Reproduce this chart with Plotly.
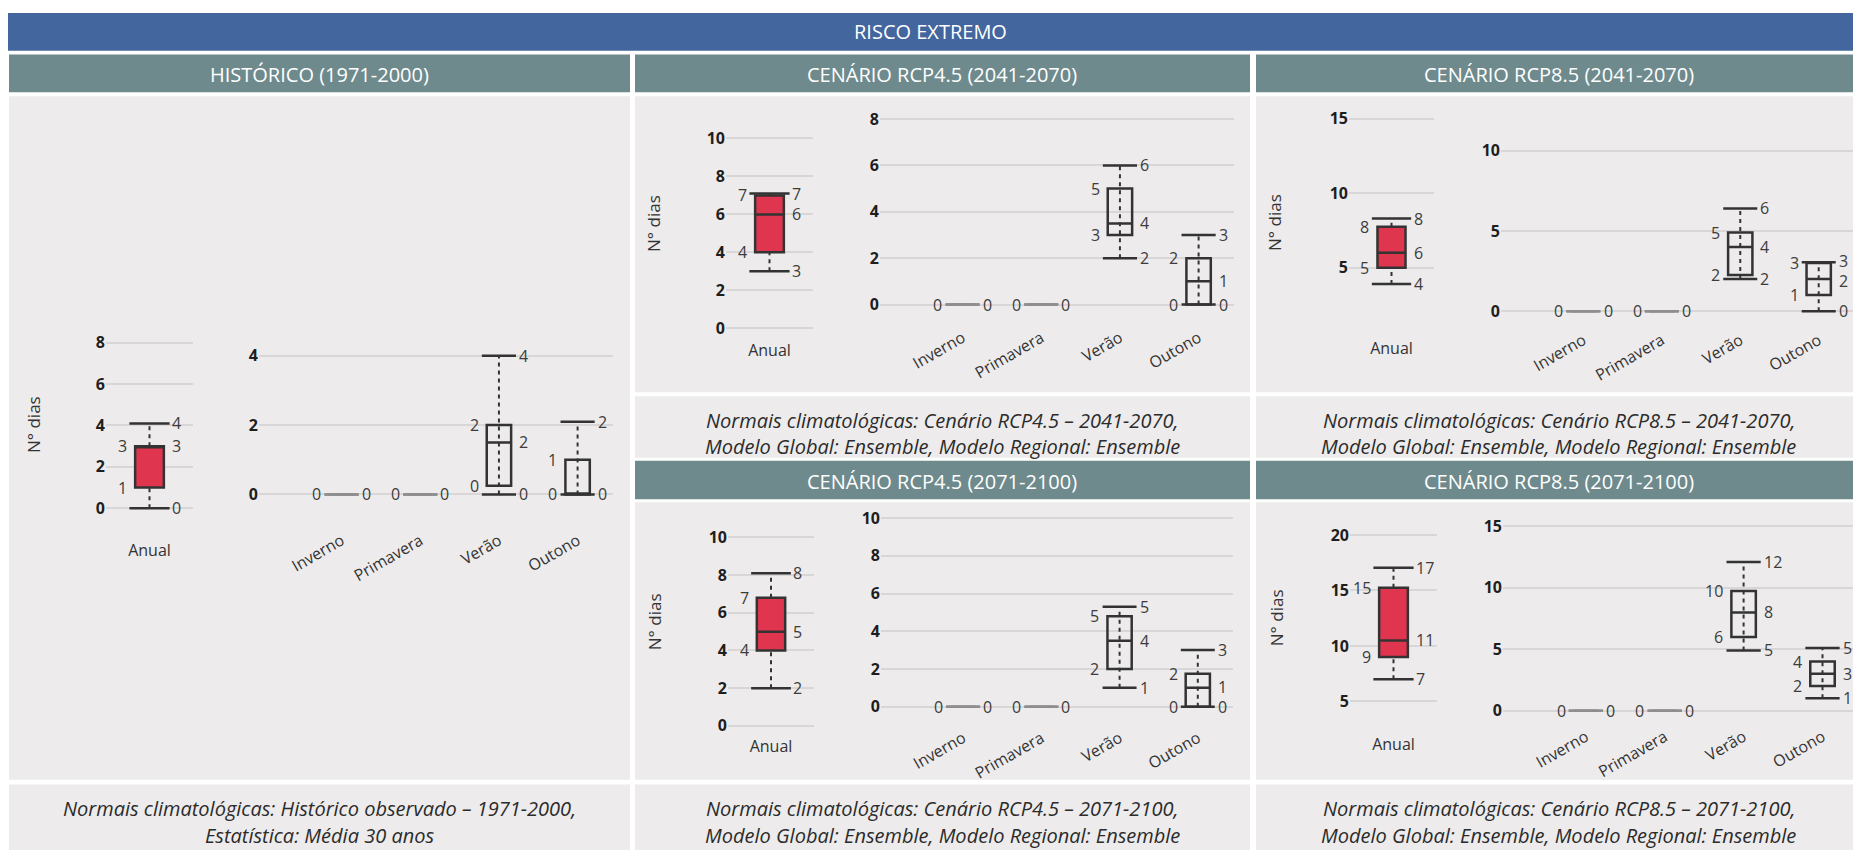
import plotly.graph_objects as go

W, H = 1861, 854
OFF = 8  # the page body margin shifts the figure by this much
FW, FH = W - OFF, H - OFF

SEASONS = ["Inverno", "Primavera", "Verão", "Outono"]
ANUAL = ["Anual"]
ZERO = (0, 0, 0, 0, 0)

# box statistics: (min, q1, median, q3, max)
HIST_ANUAL = (0, 1, 3, 3, 4.1)
HIST_SEASONS = [ZERO, ZERO, (0, 0.25, 1.5, 2, 4), (0, 0, 0, 1, 2.1)]
R45A_ANUAL = (3, 4, 6, 7, 7.1)
R45A_SEASONS = [ZERO, ZERO, (2, 3, 3.5, 5, 6), (0, 0, 1, 2, 3)]
R85A_ANUAL = (3.9, 5, 6, 7.75, 8.3)
R85A_SEASONS = [ZERO, ZERO, (2, 2.25, 4, 4.9, 6.4), (0, 1, 2, 3, 3.05)]
R45B_ANUAL = (2, 4, 5, 6.8, 8.1)
R45B_SEASONS = [ZERO, ZERO, (1, 2, 3.5, 4.8, 5.3), (0, 0, 1, 1.75, 3)]
R85B_ANUAL = (7, 9, 10.5, 15.25, 17.05)
R85B_SEASONS = [ZERO, ZERO, (4.9, 6, 8, 9.75, 12.1), (1, 2, 3, 4, 5.1)]

HIST_ANUAL_TICKS = [0, 2, 4, 6, 8]
HIST_SEASON_TICKS = [0, 2, 4]
R45A_ANUAL_TICKS = [0, 2, 4, 6, 8, 10]
R45A_SEASON_TICKS = [0, 2, 4, 6, 8]
R85A_ANUAL_TICKS = [5, 10, 15]
R85A_SEASON_TICKS = [0, 5, 10]
R45B_ANUAL_TICKS = [0, 2, 4, 6, 8, 10]
R45B_SEASON_TICKS = [0, 2, 4, 6, 8, 10]
R85B_ANUAL_TICKS = [5, 10, 15, 20]
R85B_SEASON_TICKS = [0, 5, 10, 15]

TITLE = "RISCO EXTREMO"
HEAD_HIST = "HISTÓRICO (1971-2000)"
HEAD_R45A = "CENÁRIO RCP4.5 (2041-2070)"
HEAD_R85A = "CENÁRIO RCP8.5 (2041-2070)"
HEAD_R45B = "CENÁRIO RCP4.5 (2071-2100)"
HEAD_R85B = "CENÁRIO RCP8.5 (2071-2100)"
CAP_HIST = ["Normais climatológicas: Histórico observado – 1971-2000,", "Estatística: Média 30 anos"]
CAP_R45A = ["Normais climatológicas: Cenário RCP4.5 – 2041-2070,", "Modelo Global: Ensemble, Modelo Regional: Ensemble"]
CAP_R85A = ["Normais climatológicas: Cenário RCP8.5 – 2041-2070,", "Modelo Global: Ensemble, Modelo Regional: Ensemble"]
CAP_R45B = ["Normais climatológicas: Cenário RCP4.5 – 2071-2100,", "Modelo Global: Ensemble, Modelo Regional: Ensemble"]
CAP_R85B = ["Normais climatológicas: Cenário RCP8.5 – 2071-2100,", "Modelo Global: Ensemble, Modelo Regional: Ensemble"]
Y_TITLE = "N° dias"

BLUE = "#42669d"
TEAL = "#6e8a8d"
PANEL = "#edebec"
RED = "#e0354f"
INK = "#333333"
FLAT = "#8e8e8e"
GRID = "#d8d6d7"
FONT = "Open Sans"

# subplot geometry in pixels: stats, categories, ticks, (left, right), (top, bottom), y range, label standoff
SUBPLOTS = [
    ([HIST_ANUAL], ANUAL, HIST_ANUAL_TICKS, (106, 193), (331.3, 519.5), (-0.5, 8.5), 20),
    (HIST_SEASONS, SEASONS, HIST_SEASON_TICKS, (259, 613), (342.8, 507.3), (-0.35, 4.35), 21),
    ([R45A_ANUAL], ANUAL, R45A_ANUAL_TICKS, (726, 813), (126.1, 336.9), (-0.5, 10.5), 1),
    (R45A_SEASONS, SEASONS, R45A_SEASON_TICKS, (880, 1234), (106.7, 312.7), (-0.4, 8.4), 11),
    ([R85A_ANUAL], ANUAL, R85A_ANUAL_TICKS, (1349, 1434), (105.3, 318.8), (1.5, 15.7), 17),
    (R85A_SEASONS, SEASONS, R85A_SEASON_TICKS, (1501, 1854), (138.3, 318.1), (-0.5, 10.6), 8),
    ([R45B_ANUAL], ANUAL, R45B_ANUAL_TICKS, (728, 814), (528.9, 738.2), (-0.5, 10.5), 0),
    (R45B_SEASONS, SEASONS, R45B_SEASON_TICKS, (881, 1233), (509.5, 718.8), (-0.5, 10.5), 9),
    ([R85B_ANUAL], ANUAL, R85B_ANUAL_TICKS, (1350, 1437), (524.8, 720.8), (3.5, 21), 15),
    (R85B_SEASONS, SEASONS, R85B_SEASON_TICKS, (1503, 1858), (519.9, 719.5), (-0.5, 15.6), 7),
]


def fx(px):
    return (px - OFF) / FW


def fy(py):
    return 1 - (py - OFF) / FH


def lbl(v):
    return str(int(v + 0.5))


fig = go.Figure()
shapes, annots = [], []


def rect(x0, y0, x1, y1, color):
    shapes.append(dict(type="rect", xref="paper", yref="paper", x0=fx(x0), x1=fx(x1),
                       y0=fy(y1), y1=fy(y0), fillcolor=color, line_width=0, layer="below"))


def text(x, y, s, size, color, **kw):
    annots.append(dict(xref="paper", yref="paper", x=fx(x), y=fy(y), text=s, showarrow=False,
                       font=dict(family=FONT, size=size, color=color),
                       xanchor="center", yanchor="middle", **kw))


# frame
rect(8, 9, 1861, 47, BLUE)
text(930, 28, TITLE, 20, "white")
for x0, x1, y0, y1, head in [(9, 630, 51, 89, HEAD_HIST), (635, 1250, 51, 89, HEAD_R45A),
                             (1256, 1861, 51, 89, HEAD_R85A), (635, 1250, 461, 500, HEAD_R45B),
                             (1256, 1861, 461, 500, HEAD_R85B)]:
    rect(x0, y0, x1, y1, TEAL)
    text((x0 + x1) / 2, (y0 + y1) / 2 + 1, head, 20, "white")
for x0, y0, x1, y1 in [(9, 93, 630, 783), (635, 93, 1250, 392), (1256, 93, 1861, 392),
                       (635, 503, 1250, 783), (1256, 503, 1861, 783)]:
    rect(x0, y0, x1, y1, PANEL)
for x0, x1, y0, y1, lines in [(635, 1250, 396, 458, CAP_R45A), (1256, 1861, 396, 458, CAP_R85A),
                              (9, 630, 788, 854, CAP_HIST), (635, 1250, 788, 854, CAP_R45B),
                              (1256, 1861, 788, 854, CAP_R85B)]:
    rect(x0, y0, x1, y1, PANEL)
    text((x0 + x1) / 2, y0 + 24, f"<i>{lines[0]}</i>", 20, "#2b2b2b")
    text((x0 + x1) / 2, y0 + 51, f"<i>{lines[1]}</i>", 20, "#2b2b2b")
for x, y in [(33, 425), (654, 222), (1275, 221), (654, 624), (1276, 620)]:
    text(x, y, Y_TITLE, 17, INK, textangle=-90)

layout_axes = {}
for i, (stats, cats, ticks, (left, right), (top, bottom), yr, standoff) in enumerate(SUBPLOTS, start=1):
    sfx = "" if i == 1 else str(i)
    xref, yref = "x" + sfx, "y" + sfx
    anual = len(cats) == 1
    xr = (-0.5, 0.5) if anual else (-1.05, 3.45)
    bw = 0.33 if anual else 0.31
    half = bw * (right - left) / (xr[1] - xr[0]) / 2
    ppu = (bottom - top) / (yr[1] - yr[0])  # pixels per y unit

    for k, (mn, q1, med, q3, mx) in enumerate(stats):
        color = FLAT if mn == mx else INK
        # dotted whisker: hidden behind the filled annual box, visible through the seasonal ones
        wy = [mn, q1, None, q3, mx] if anual else [mn, mx]
        fig.add_trace(go.Scatter(x=[k] * len(wy), y=wy, mode="lines", xaxis=xref, yaxis=yref,
                                 line=dict(color=INK, width=2, dash="4px,4px"), hoverinfo="skip"))
        fig.add_trace(go.Box(x=[k], q1=[q1], median=[med], q3=[q3], lowerfence=[q1], upperfence=[q3],
                             width=bw, xaxis=xref, yaxis=yref, boxpoints=False,
                             fillcolor=RED if anual else "rgba(0,0,0,0)",
                             line=dict(color=color, width=2.5)))
        fig.add_trace(go.Scatter(x=[k, k], y=[mn, mx], mode="markers", xaxis=xref, yaxis=yref,
                                 marker=dict(symbol="line-ew", size=2 * half,
                                             line=dict(color=color, width=2.5)), hoverinfo="skip"))
        for side, vals in (("right", (q3, q1)), ("left", (mx, med, mn))):
            # one label per distinct value, nudged apart when they sit too close
            uniq = sorted(set(vals), reverse=True)
            shifts = [0.0] * len(uniq)
            for j in range(1, len(uniq)):
                gap = (uniq[j - 1] - uniq[j]) * ppu
                if 0 < gap < 20:
                    push = (20 - gap) / 2
                    shifts[j - 1] += push
                    shifts[j] -= push
            for v, ys in zip(uniq, shifts):
                annots.append(dict(xref=xref, yref=yref, x=k, y=v, text=lbl(v), showarrow=False,
                                   xanchor=side, yanchor="middle", yshift=ys,
                                   xshift=-(half + 6) if side == "right" else half + 6,
                                   font=dict(family=FONT, size=16, color="#3c3c3c")))

    layout_axes["xaxis" + sfx] = dict(
        domain=[fx(left), fx(right)], anchor=yref, range=list(xr), tickvals=list(range(len(cats))),
        ticktext=cats, tickangle=0 if anual else -30, showgrid=False, zeroline=False, showline=False,
        ticklabelstandoff=standoff, tickfont=dict(family=FONT, size=16, color=INK), fixedrange=True)
    layout_axes["yaxis" + sfx] = dict(
        domain=[fy(bottom), fy(top)], anchor=xref, range=list(yr), tickvals=ticks,
        showgrid=True, gridcolor=GRID, gridwidth=1.5, zeroline=False, showline=False,
        tickfont=dict(family=FONT, size=16, color="#1e1e1e", weight="bold"), fixedrange=True)

fig.update_layout(
    width=FW, height=FH, margin=dict(l=0, r=0, t=0, b=0),
    paper_bgcolor="white", plot_bgcolor="rgba(0,0,0,0)",
    showlegend=False, boxmode="overlay",
    shapes=shapes, annotations=annots, **layout_axes,
)

fig.write_html("out.html")
